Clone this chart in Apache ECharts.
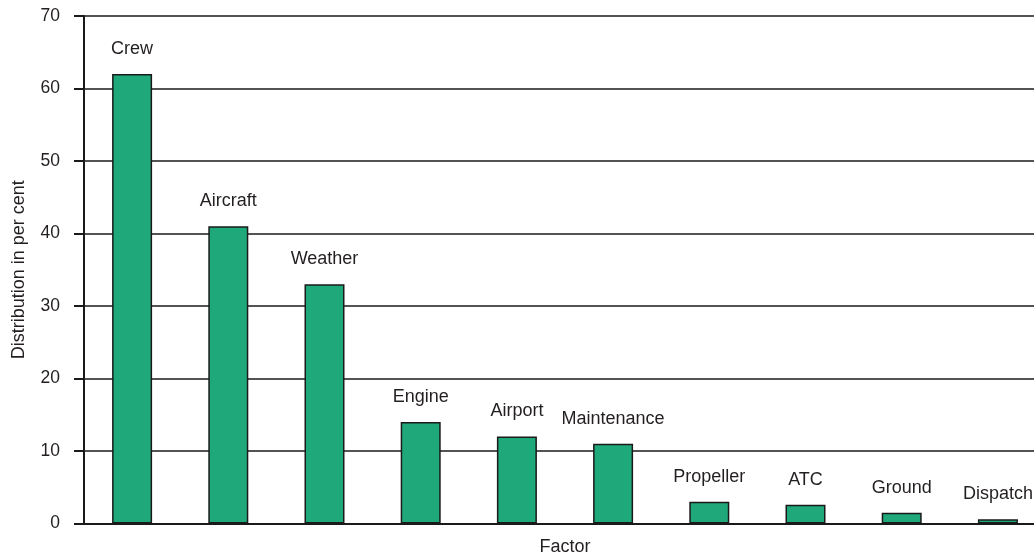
<!DOCTYPE html>
<html>
<head>
<meta charset="utf-8">
<script src="https://cdn.jsdelivr.net/npm/echarts@6/dist/echarts.min.js"></script>
<style>
html,body{margin:0;padding:0;background:#fff;}
#chart{width:1034px;height:559px;}
</style>
</head>
<body>
<div id="chart"></div>
<script>
var categories = ['Crew','Aircraft','Weather','Engine','Airport','Maintenance','Propeller','ATC','Ground','Dispatch'];
var values = [62, 41, 33, 14, 12, 11, 3, 2.6, 1.5, 0.6];
var yTicks = [0, 10, 20, 30, 40, 50, 60, 70];

var FONT = "'Liberation Sans', Arial, sans-serif";
var TXT = '#231f20';

var chart = echarts.init(document.getElementById('chart'), null, {renderer: 'canvas'});
chart.setOption({
  animation: false,
  backgroundColor: '#ffffff',
  grid: {left: 84, right: -12, top: 16, bottom: 35.5, containLabel: false, outerBoundsMode: 'none'},
  xAxis: {
    type: 'category',
    data: categories,
    name: 'Factor',
    nameLocation: 'middle',
    nameGap: 15,
    nameTextStyle: {fontFamily: FONT, fontSize: 18, color: TXT, lineHeight: 18},
    axisLine: {show: true, lineStyle: {color: '#1a1a1a', width: 2}},
    axisTick: {show: false},
    axisLabel: {show: false},
    splitLine: {show: false}
  },
  yAxis: {
    type: 'value',
    min: yTicks[0],
    max: yTicks[yTicks.length - 1],
    interval: 10,
    name: 'Distribution in per cent',
    nameLocation: 'middle',
    nameGap: 56,
    nameTextStyle: {fontFamily: FONT, fontSize: 18, color: TXT, lineHeight: 18},
    axisLine: {show: true, lineStyle: {color: '#1a1a1a', width: 2}},
    axisTick: {show: true, inside: false, length: 10, lineStyle: {color: '#1a1a1a', width: 2}},
    axisLabel: {fontFamily: FONT, fontSize: 17.5, color: TXT, margin: 24},
    splitLine: {show: true, lineStyle: {color: '#1a1a1a', width: 1.5}}
  },
  series: [{
    type: 'bar',
    data: values,
    barWidth: 40,
    itemStyle: {color: '#1fa97a', borderColor: '#1a1a1a', borderWidth: 1.5},
    label: {
      show: true,
      position: 'top',
      distance: 16,
      formatter: function (p) { return p.name; },
      fontFamily: FONT,
      fontSize: 18,
      lineHeight: 18,
      color: TXT
    }
  }]
});
</script>
</body>
</html>
